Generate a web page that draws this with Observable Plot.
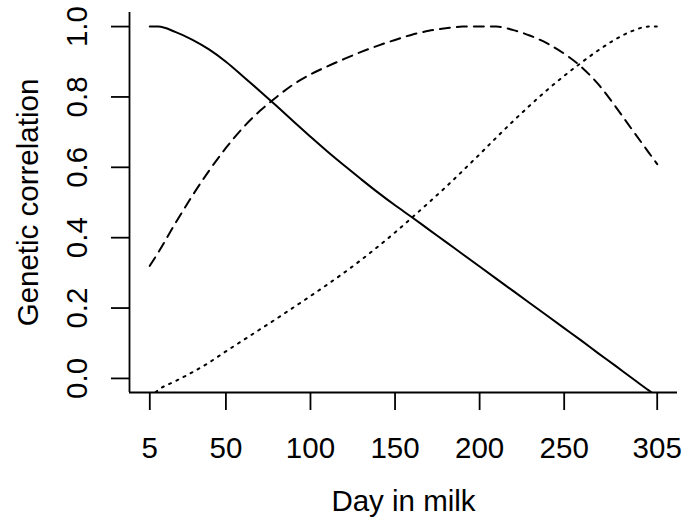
<!DOCTYPE html>
<html>
<head>
<meta charset="utf-8">
<script src="https://cdn.jsdelivr.net/npm/d3@7"></script>
<script src="https://cdn.jsdelivr.net/npm/@observablehq/plot@0.6"></script>
<style>
  html, body { margin: 0; padding: 0; background: #fff; }
</style>
</head>
<body>
<div id="chart"></div>
<script>
// ---- data ----
const days = [5, 10, 20, 30, 40, 50, 60, 70, 80, 90, 100, 110, 120, 130, 140, 150, 160, 170, 180, 190, 200, 210, 220, 230, 240, 250, 260, 270, 280, 290, 300, 305];
const solidCorr = [1.0, 1.0, 0.985, 0.963, 0.935, 0.90, 0.859, 0.817, 0.774, 0.73, 0.687, 0.645, 0.605, 0.566, 0.528, 0.492, 0.458, 0.423, 0.388, 0.353, 0.318, 0.283, 0.248, 0.213, 0.178, 0.143, 0.108, 0.072, 0.037, 0.001, -0.034, -0.052];
const dashedCorr = [0.32, 0.358, 0.44, 0.518, 0.59, 0.655, 0.712, 0.76, 0.80, 0.836, 0.864, 0.887, 0.908, 0.928, 0.946, 0.962, 0.977, 0.988, 0.995, 1.0, 1.0, 1.0, 0.99, 0.974, 0.952, 0.923, 0.886, 0.837, 0.775, 0.708, 0.642, 0.609];
const dottedCorr = [-0.055, -0.033, -0.008, 0.017, 0.045, 0.077, 0.108, 0.139, 0.17, 0.202, 0.234, 0.267, 0.301, 0.337, 0.375, 0.415, 0.457, 0.5, 0.544, 0.59, 0.637, 0.685, 0.732, 0.777, 0.82, 0.86, 0.897, 0.932, 0.963, 0.987, 1.0, 1.0];

const xTicks = [5, 50, 100, 150, 200, 250, 305];
const yTicks = [0, 0.2, 0.4, 0.6, 0.8, 1.0];
const xDomain = [-7, 317];
const yDomain = [-0.04, 1.04];
const xTitle = "Day in milk";
const yTitle = "Genetic correlation";

// table built from the arrays
const rows = days.map((d, i) => ({day: d, solid: solidCorr[i], dashed: dashedCorr[i], dotted: dottedCorr[i]}));

const ink = "#000";
const chart = Plot.plot({
  width: 690,
  height: 523,
  marginLeft: 129,
  marginRight: 13,
  marginTop: 12,
  marginBottom: 131,
  style: {fontFamily: "'Liberation Sans', Arial, Helvetica, sans-serif", fontSize: "29.5px", color: ink, background: "#fff"},
  x: {domain: xDomain, axis: null},
  y: {domain: yDomain, axis: null},
  marks: [
    Plot.lineY(rows, {x: "day", y: "solid", stroke: ink, strokeWidth: 2, curve: "monotone-x", clip: true}),
    Plot.lineY(rows, {x: "day", y: "dashed", stroke: ink, strokeWidth: 2, strokeDasharray: "10,7", strokeLinecap: "round", curve: "monotone-x", clip: true}),
    Plot.lineY(rows, {x: "day", y: "dotted", stroke: ink, strokeWidth: 2, strokeDasharray: "2,6", strokeLinecap: "round", curve: "monotone-x", clip: true}),
    // L-shaped box
    Plot.ruleX([xDomain[0]], {stroke: ink, strokeWidth: 1.8}),
    Plot.ruleY([yDomain[0]], {stroke: ink, strokeWidth: 1.8}),
    // axes
    Plot.axisX(xTicks, {tickSize: 18, tickPadding: 27, fontSize: 29.5, stroke: ink, strokeWidth: 1.8, label: null}),
    Plot.axisY(yTicks, {tickSize: 18, tickPadding: 25, tickRotate: -90, tickFormat: d => d.toFixed(1), fontSize: 29.5, stroke: ink, strokeWidth: 1.8, label: null}),
    // axis titles
    Plot.text([xTitle], {frameAnchor: "bottom", dy: 118, lineAnchor: "bottom", textAnchor: "middle", fontSize: 29.5, fill: ink}),
    Plot.text([yTitle], {frameAnchor: "left", rotate: -90, dx: -92, lineAnchor: "bottom", textAnchor: "middle", fontSize: 29.5, fill: ink})
  ]
});
document.getElementById("chart").appendChild(chart);
</script>
</body>
</html>
